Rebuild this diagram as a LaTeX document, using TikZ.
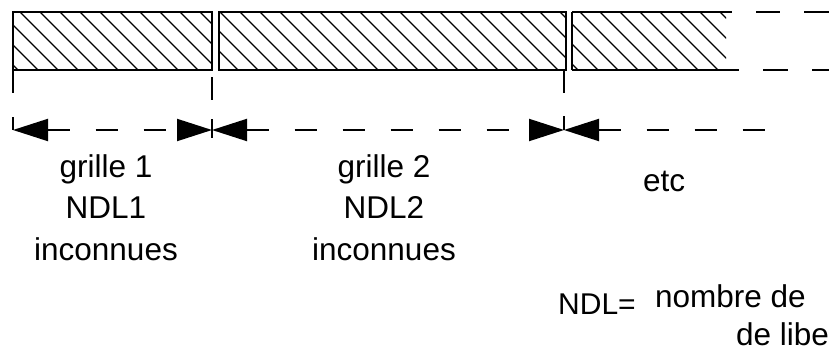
\documentclass[tikz,border=0pt]{standalone}
\usepackage{fontspec}
\setmainfont{Liberation Sans}
\usetikzlibrary{arrows.meta}

\begin{document}
\begin{tikzpicture}[x=1pt, y=-1pt,
    box/.style={line width=2.2pt},
    hatch/.style={line width=1.2pt},
    dim/.style={line width=2pt, dash pattern=on 22pt off 26pt},
    dimtip/.tip={Triangle[length=35pt, width=22pt]},
    lbl/.style={anchor=base, inner sep=0pt, font=\fontsize{31.5}{36}\selectfont}]
  \useasboundingbox (0,0) rectangle (829,353);

  % Hatched grids
  \begin{scope}
    \clip (13,12) rectangle (212,70);
    \foreach \x in {-60,-40,...,220} \draw[hatch] (\x,12) -- ++(58,58);
  \end{scope}
  \begin{scope}
    \clip (219,12) rectangle (566,70);
    \foreach \x in {160,180,...,580} \draw[hatch] (\x,12) -- ++(58,58);
  \end{scope}
  \begin{scope}
    \clip (572,12) rectangle (726,70);
    \foreach \x in {520,540,...,740} \draw[hatch] (\x,12) -- ++(58,58);
  \end{scope}
  \draw[box] (13,12) rectangle (212,70);
  \draw[box] (219,12) rectangle (566,70);
  \draw[box] (572,70) -- (572,12);
  \draw[box, dash pattern=on 160pt off 24pt on 24pt off 24pt on 40pt] (572,12) -- (829,12);
  \draw[box, dash pattern=on 167pt off 24pt on 25pt off 24pt on 40pt] (572,70) -- (829,70);

  % Extension lines
  \draw[line width=1.6pt] (13,70) -- (13,93);
  \draw[line width=1.6pt] (212,77) -- (212,100);
  \draw[line width=1.6pt] (564,70) -- (564,93);

  % Dimension lines
  \coordinate (d0) at (13,130);
  \coordinate (d1) at (212,130);
  \coordinate (d2) at (564,130);
  \coordinate (d3) at (770,130);
  \draw[line width=1.6pt] (13,117) -- (d0);
  \draw[line width=1.2pt] (212,119) -- (212,138);
  \draw[line width=1.2pt] (564,116) -- (d2);
  \draw[dim, dimtip-dimtip] (d0) -- (d1);
  \draw[dim, dimtip-dimtip] (d1) -- (d2);
  \draw[dim, dimtip-] (d2) -- (d3);

  % Labels
  \node[lbl] (g1) at (106,177) {grille 1};
  \node[lbl] (n1) at (106,218) {NDL1};
  \node[lbl] (i1) at (106,260) {inconnues};
  \node[lbl] (g2) at (384,177) {grille 2};
  \node[lbl] (n2) at (384,218) {NDL2};
  \node[lbl] (i2) at (384,260) {inconnues};
  \node[lbl] (etc) at (664,191) {etc};
  \node[lbl, anchor=base west, font=\fontsize{30}{34}\selectfont] (ndl) at (558,314) {NDL=};
  \node[lbl, anchor=base west] (nb) at (655,307) {nombre de};
  \node[lbl, anchor=base west] (lib) at (736,345) {de libe};
\end{tikzpicture}
\end{document}
